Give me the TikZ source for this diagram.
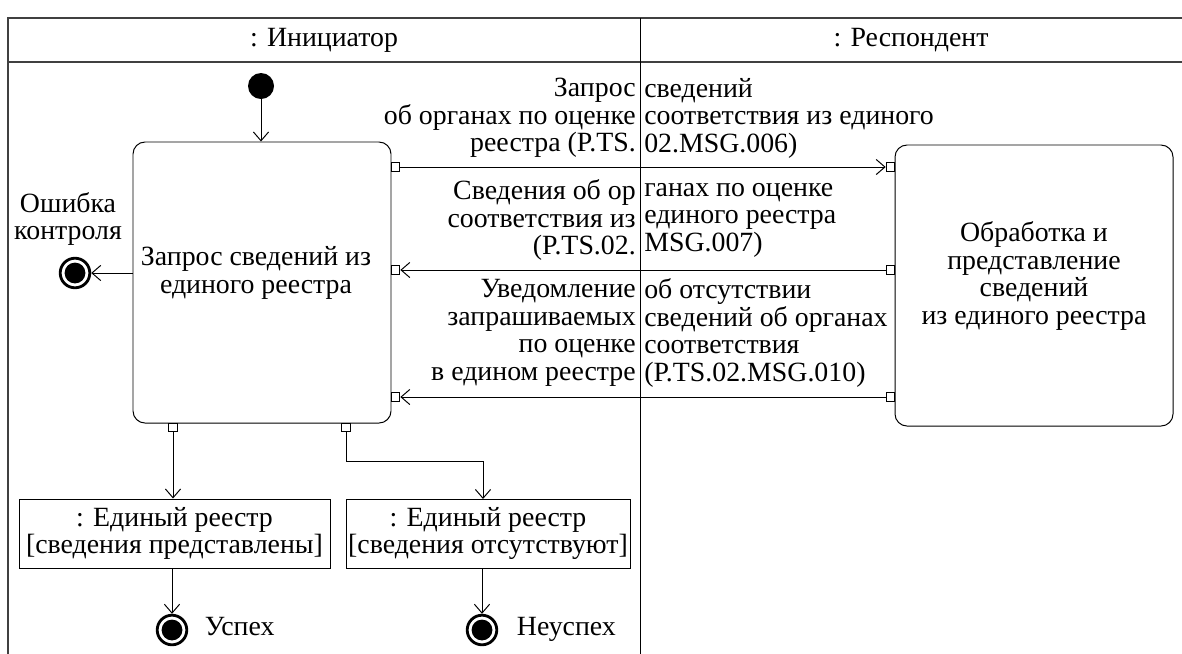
\documentclass[tikz,border=0pt]{standalone}
\usepackage{fontspec}
\setmainfont{Liberation Serif}
\usetikzlibrary{arrows.meta}

\begin{document}
\begin{tikzpicture}[x=0.025cm,y=-0.025cm,font=\fontsize{19.8}{19.6}\selectfont]
\tikzset{act/.style={draw,rounded corners=0.3cm,line width=0.7pt,align=center,inner sep=0},
obj/.style={draw,line width=0.7pt,align=center,inner sep=0},
pin/.style={draw,fill=white,minimum size=0.22cm,inner sep=0,line width=0.6pt},
flow/.style={line width=0.7pt,-{Straight Barb[length=0.22cm,width=0.38cm]}},
final/.style={circle,draw,line width=2pt,minimum size=0.74cm,inner sep=0,path picture={\fill (path picture bounding box.center) circle (0.26cm);}},
msgl/.style={anchor=east,align=right,inner sep=0},
msgr/.style={anchor=west,align=left,inner sep=0}}
\useasboundingbox (0,0) rectangle (1182,653);
\clip (0,0) rectangle (1182,653);
% partitions
\draw[line width=1pt,black!75] (8,18) rectangle (1220,700);
\draw[line width=1pt,black!75] (8,62) -- (1220,62);
\draw[line width=0.7pt] (640,18) -- (640,700);
\node (hInit) at (324,40) {: Инициатор};
\node (hResp) at (911,40) {: Респондент};
% actions
\node[circle,fill=black,minimum size=0.65cm,inner sep=0] (init) at (261,86) {};
\node[act,minimum width=258*0.025cm,minimum height=281*0.025cm] (reqBox) at (262,282.5) {};
\node[align=center] (reqText) at (256,273) {Запрос сведений из\\единого реестра};
\node[act,minimum width=278*0.025cm,minimum height=281*0.025cm] (procBox) at (1034,285.5) {};
\node[align=center] (procText) at (1034,276) {Обработка и\\представление\\сведений\\из единого реестра};
% pins
\foreach \n/\y in {1/167,2/270,3/397}{
\node[pin] (pA\n) at (395.5,\y) {};
\node[pin] (pB\n) at (890.5,\y) {};
}
\node[pin] (pOk) at (173,427.5) {};
\node[pin] (pNo) at (346,427.5) {};
% messages
\draw[flow] (pA1) -- (pB1);
\draw[flow] (pB2) -- (pA2);
\draw[flow] (pB3) -- (pA3);
\node[msgl] (m1l) at (636,118) {Запрос\\об органах по оценке\\реестра (P.TS.};
\node[msgr] (m1r) at (644,118) {сведений\\соответствия из единого\\02.MSG.006)};
\node[msgl] (m2l) at (636,220) {Сведения об ор\\соответствия из\\(P.TS.02.};
\node[msgr] (m2r) at (644,220) {ганах по оценке\\единого реестра\\MSG.007)};
\node[msgl] (m3l) at (636,333) {Уведомление\\запрашиваемых\\по оценке\\в едином реестре};
\node[msgr] (m3r) at (644,333) {об отсутствии\\сведений об органах\\соответствия\\(P.TS.02.MSG.010)};
% ends
\draw[flow] (init) -- (init |- reqBox.north);
\node[final] (errEnd) at (75,273) {};
\node[align=center] (errText) at (68,219) {Ошибка\\контроля};
\draw[flow] (reqBox.west |- errEnd) -- (errEnd);
\node[obj,minimum width=311*0.025cm,minimum height=69*0.025cm] (objOk) at (174.5,533.5) {: Единый реестр\\{[}сведения представлены{]}};
\node[obj,minimum width=284*0.025cm,minimum height=69*0.025cm] (objNo) at (488,533.5) {: Единый реестр\\{[}сведения отсутствуют{]}};
\draw[flow] (pOk) -- (pOk |- objOk.north);
\draw[flow] (pNo) |- (483,461) -- (483,499);
\node[final] (okEnd) at (172,630) {};
\node[final] (noEnd) at (482,630) {};
\node[anchor=mid west] (okText) at (200,632) {Успех};
\node[anchor=mid west] (noText) at (512,632) {Неуспех};
\draw[flow] (objOk.south -| okEnd) -- (okEnd);
\draw[flow] (objNo.south -| noEnd) -- (noEnd);
\end{tikzpicture}
\end{document}
